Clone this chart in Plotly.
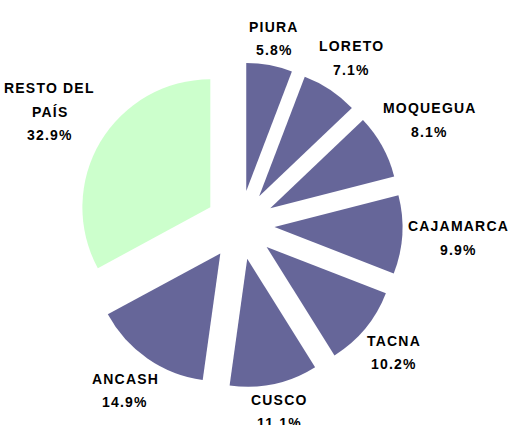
import math
import plotly.graph_objects as go

labels = ["PIURA", "LORETO", "MOQUEGUA", "CAJAMARCA", "TACNA", "CUSCO", "ANCASH", "RESTO DEL PAÍS"]
label_lines = [["PIURA"], ["LORETO"], ["MOQUEGUA"], ["CAJAMARCA"], ["TACNA"], ["CUSCO"], ["ANCASH"], ["RESTO DEL", "PAÍS"]]
values = [5.8, 7.1, 8.1, 9.9, 10.2, 11.1, 14.9, 32.9]
colors = ["#666699"] * 7 + ["#CCFFCC"]

W, H = 511, 425
PULL = 0.27
dom_x = [0.1517, 0.7877]
dom_y = [0.0882, 0.853]

fig = go.Figure(go.Pie(
    labels=labels, values=values, sort=False, direction="clockwise", rotation=0,
    pull=[PULL] * len(values), marker=dict(colors=colors, line=dict(width=0)),
    textinfo="none", hoverinfo="label+percent", showlegend=False,
    domain=dict(x=dom_x, y=dom_y),
))

# geometry derived from the pie domain (plotly's own scaling rule)
dw = (dom_x[1] - dom_x[0]) * W
dh = (dom_y[1] - dom_y[0]) * H
r = min(dw, dh) / (2 + 2 * PULL)
cx = (dom_x[0] + dom_x[1]) / 2 * W
cy = (1 - (dom_y[0] + dom_y[1]) / 2) * H
redge = r * (1 + PULL) + 6

FS = 14
SPACING = 1.2
LINE = 23.5
font = dict(family="Liberation Sans, Arial, sans-serif", size=FS, color="black")

# approximate Arial Bold advance widths (per 1000 em)
AW = {c: 722 for c in "ABCDHKNRU"}
AW.update({"E": 667, "F": 611, "G": 778, "I": 278, "Í": 278, "J": 556, "L": 611, "M": 833,
           "O": 778, "P": 667, "Q": 778, "S": 667, "T": 611, "V": 667, "W": 944,
           "X": 667, "Y": 667, "Z": 611, " ": 278, ".": 278, "%": 889})
for dgt in "0123456789":
    AW[dgt] = 556


def text_w(s):
    return sum(AW.get(ch, 600) for ch in s) * FS / 1000 + SPACING * (len(s) - 1)


total = sum(values)
cum = 0
anns = []
for lines, v in zip(label_lines, values):
    mid = (cum + v / 2) / total * 2 * math.pi
    cum += v
    pct = f"{v / total * 100:.1f}%"
    all_lines = lines + [pct]
    w = max(text_w(s) for s in all_lines)
    h = (len(all_lines) - 1) * LINE + FS * 0.75
    s, c = math.sin(mid), math.cos(mid)
    d = redge + abs(s) * w / 2 + abs(c) * h / 2
    lx = cx + d * s
    ly = cy - d * c
    for i, txt in enumerate(all_lines):
        py = ly + (i - (len(all_lines) - 1) / 2) * LINE
        anns.append(dict(x=lx / W, y=1 - py / H, xref="paper", yref="paper",
                         text=f"<span style=\"letter-spacing:{SPACING}px\"><b>{txt}</b></span>",
                         showarrow=False, font=font,
                         xanchor="center", yanchor="middle"))

fig.update_layout(
    width=W, height=H, margin=dict(l=0, r=0, t=0, b=0),
    paper_bgcolor="white", plot_bgcolor="white", annotations=anns,
)
fig.write_html("out.html", config={"displayModeBar": False},
               post_script="document.body.style.margin='0';")
